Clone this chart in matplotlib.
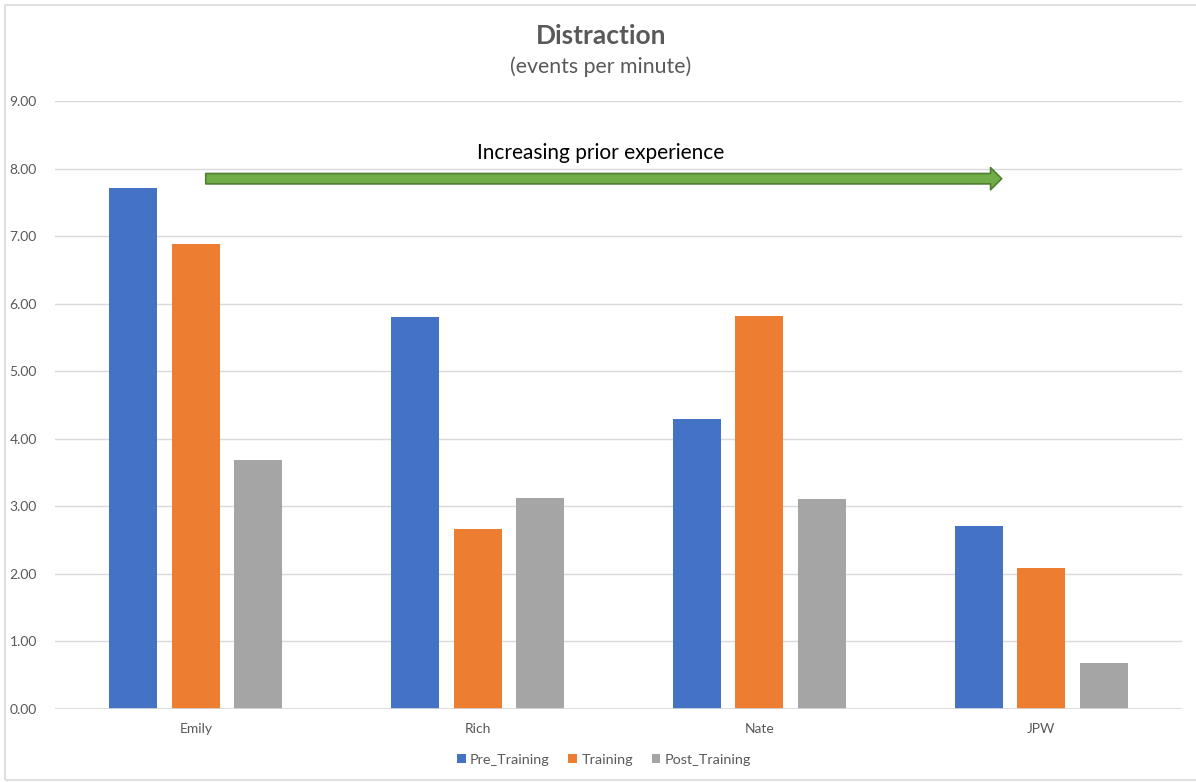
import matplotlib
matplotlib.use("Agg")
import matplotlib.pyplot as plt
import numpy as np
from matplotlib.patches import FancyArrowPatch, Rectangle

categories = ["Emily", "Rich", "Nate", "JPW"]
series_names = ["Pre_Training", "Training", "Post_Training"]
pre_training = [7.71, 5.81, 4.29, 2.71]
training = [6.88, 2.66, 5.82, 2.09]
post_training = [3.68, 3.12, 3.11, 0.68]
colors = ["#4472C4", "#ED7D31", "#A5A5A5"]
yticks = [0, 1, 2, 3, 4, 5, 6, 7, 8, 9]

plt.rcParams['font.family'] = ['Lato', 'DejaVu Sans']
W, H = 1196, 782
fig = plt.figure(figsize=(W / 100, H / 100), dpi=100)
fig.patch.set_facecolor("white")

# outer chart border
fig.add_artist(Rectangle((5 / W, 2 / H), (W + 10) / W, (H - 7) / H, transform=fig.transFigure,
                         fill=False, edgecolor="#D9D9D9", linewidth=1.2))

ax = fig.add_axes([55 / W, 1 - 709 / H, (1182 - 55) / W, (709 - 101) / H])
x = np.arange(len(categories))
offs = [-0.222, 0.0, 0.222]
bw = 0.17
for vals, off, c, name in zip([pre_training, training, post_training], offs, colors, series_names):
    ax.bar(x + off, vals, width=bw, color=c, label=name, zorder=3)

ax.set_xlim(-0.5, 3.5)
ax.set_ylim(0, 9)
ax.set_yticks(yticks)
ax.set_yticklabels([f"{v:.2f}" for v in yticks], fontsize=10, color="#595959")
ax.set_xticks(x)
ax.set_xticklabels(categories, fontsize=10, color="#595959")
ax.tick_params(axis="both", length=0)
ax.tick_params(axis="y", pad=13)
ax.tick_params(axis="x", pad=10)
ax.grid(axis="y", color="#D9D9D9", linewidth=1, zorder=0)
for s in ax.spines.values():
    s.set_visible(False)
ax.axhline(0, color="#D9D9D9", linewidth=1.2, zorder=4)

# title
fig.text(601 / W, 1 - 36 / H, "Distraction", ha="center", va="center",
         fontsize=19, fontweight="bold", color="#595959")
fig.text(601 / W, 1 - 67 / H, "(events per minute)", ha="center", va="center",
         fontsize=15.3, color="#595959")

# annotation arrow
ax.text(1.436, (709 - 153) / 67.5, "Increasing prior experience", ha="center", va="center",
        fontsize=15, color="black")
arrow = FancyArrowPatch((0.035, 7.85), (2.86, 7.85),
                        arrowstyle="simple,head_width=1.6,head_length=0.8,tail_width=0.75",
                        mutation_scale=10, facecolor="#70AD47", edgecolor="#507E32",
                        linewidth=1.2, zorder=5, shrinkA=0, shrinkB=0)
ax.add_patch(arrow)

leg = fig.legend(loc="center", bbox_to_anchor=(604 / W, 1 - 760 / H), ncol=3, frameon=False,
                 fontsize=10.4, handlelength=0.6, handleheight=0.6, handletextpad=0.3,
                 columnspacing=1.3)
for t in leg.get_texts():
    t.set_color("#595959")

fig.savefig("out.png", dpi=100, facecolor="white")
